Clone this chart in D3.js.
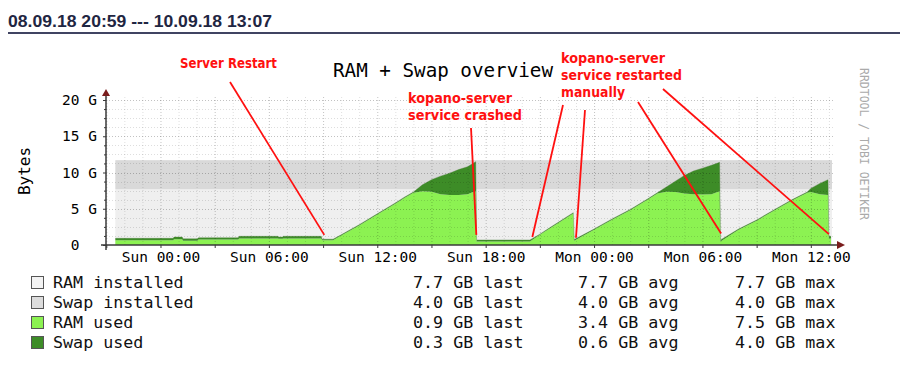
<!DOCTYPE html>
<html>
<head>
<meta charset="utf-8">
<script src="https://cdn.jsdelivr.net/npm/d3@7"></script>
<style>
  html, body { margin: 0; padding: 0; background: #fff; }
  svg { display: block; }
  .mono { font-family: "DejaVu Sans Mono", monospace; }
  .pre { white-space: pre; }
</style>
</head>
<body>
<div id="chart"></div>
<script>
// samples (GB)
const times = [
  "2018-09-08 21:30", "2018-09-09 00:42", "2018-09-09 00:45", "2018-09-09 01:12",
  "2018-09-09 01:15", "2018-09-09 02:03", "2018-09-09 02:06", "2018-09-09 04:18",
  "2018-09-09 04:21", "2018-09-09 06:30", "2018-09-09 06:33", "2018-09-09 06:45",
  "2018-09-09 06:48", "2018-09-09 08:54", "2018-09-09 08:57", "2018-09-09 09:33",
  "2018-09-09 10:00", "2018-09-09 11:00", "2018-09-09 12:00", "2018-09-09 13:00",
  "2018-09-09 13:30", "2018-09-09 14:00", "2018-09-09 14:30", "2018-09-09 15:00",
  "2018-09-09 15:30", "2018-09-09 16:00", "2018-09-09 16:30", "2018-09-09 17:00",
  "2018-09-09 17:24", "2018-09-09 17:27", "2018-09-09 17:30", "2018-09-09 20:27",
  "2018-09-09 21:00", "2018-09-09 21:30", "2018-09-09 22:00", "2018-09-09 22:30",
  "2018-09-09 22:51", "2018-09-09 22:54", "2018-09-10 00:00", "2018-09-10 01:00",
  "2018-09-10 02:00", "2018-09-10 03:00", "2018-09-10 03:30", "2018-09-10 04:00",
  "2018-09-10 04:30", "2018-09-10 05:00", "2018-09-10 05:30", "2018-09-10 06:00",
  "2018-09-10 06:30", "2018-09-10 06:57", "2018-09-10 07:00", "2018-09-10 08:00",
  "2018-09-10 09:00", "2018-09-10 10:00", "2018-09-10 11:00", "2018-09-10 11:48",
  "2018-09-10 12:00", "2018-09-10 12:30", "2018-09-10 12:57", "2018-09-10 13:00",
  "2018-09-10 13:07"
];
const ramUsed = [
  0.65, 0.65, 0.8, 0.8, 0.6, 0.6, 0.75, 0.75,
  0.9, 0.9, 0.85, 0.85, 0.9, 0.9, 0.65, 0.65,
  1.3, 2.7, 4.2, 5.7, 6.5, 7.2, 7.4, 7.35,
  7.0, 6.9, 6.9, 7.0, 7.4, 7.5, 0.5, 0.5,
  1.4, 2.2, 3.0, 3.8, 4.35, 0.6, 2.1, 3.5,
  4.8, 6.3, 7.1, 7.35, 7.3, 7.1, 7.0, 6.95,
  7.0, 7.4, 0.5, 2.1, 3.35, 4.8, 6.2, 7.2,
  7.3, 7.0, 6.9, 0.9, 0.9
];
const swapUsed = [
  0.27, 0.27, 0.3, 0.3, 0.25, 0.25, 0.25, 0.25,
  0.3, 0.3, 0.25, 0.25, 0.3, 0.3, 0.15, 0.15,
  0.1, 0.1, 0.1, 0.1, 0.1, 0.1, 0.9, 1.65,
  2.5, 3.0, 3.5, 3.8, 4.0, 4.0, 0.2, 0.2,
  0.1, 0.1, 0.1, 0.1, 0.1, 0.15, 0.1, 0.1,
  0.1, 0.1, 0.1, 0.65, 1.5, 2.5, 3.2, 3.65,
  4.0, 4.0, 0.2, 0.1, 0.1, 0.1, 0.1, 0.1,
  0.5, 1.5, 2.1, 0.3, 0.3
];
const ramInstalled = 7.7;
const swapInstalled = 4.0;

const yTicks = [0, 5, 10, 15, 20];

const legendNames = ["RAM installed", "Swap installed", "RAM used", "Swap used"];
const legendColors = ["#f3f3f3", "#dcdcdc", "#8cf252", "#3d8c27"];
const lastVals = ["7.7", "4.0", "0.9", "0.3"];
const avgVals = ["7.7", "4.0", "3.4", "0.6"];
const maxVals = ["7.7", "4.0", "7.5", "4.0"];

// annotations: text block + the event each line points at
const notes = [
  { lines: ["Server Restart"], widths: [97], x: 180, y: 68,
    arrows: [{ from: [230, 82], at: "2018-09-09 09:04", v: 1.4 }] },
  { lines: ["kopano-server", "service crashed"], widths: [104, 114], x: 408, y: 103,
    arrows: [{ from: [471, 128], at: "2018-09-09 17:29", v: 1.4 }] },
  { lines: ["kopano-server", "service restarted", "manually"], widths: [104, 121, 64], x: 561, y: 63,
    arrows: [
      { from: [563, 105], at: "2018-09-09 20:35", v: 1.1 },
      { from: [585, 110], at: "2018-09-09 23:00", v: 1.0 },
      { from: [638, 102], at: "2018-09-10 07:02", v: 1.6 },
      { from: [663, 89], at: "2018-09-10 13:00", v: 1.5 }
    ] }
];

const parse = d3.timeParse("%Y-%m-%d %H:%M");
const data = times.map((t, i) => ({ t: parse(t), ram: ramUsed[i], swap: swapUsed[i] }));

const width = 900, height = 371;
const svg = d3.select("#chart").append("svg")
  .attr("width", width)
  .attr("height", height);

// header line
svg.append("text")
  .attr("x", 8).attr("y", 27)
  .attr("textLength", 264).attr("lengthAdjust", "spacingAndGlyphs")
  .style("font-family", "'Liberation Sans', Arial, sans-serif")
  .style("font-weight", "bold").style("font-size", "17px")
  .attr("fill", "#1f2642")
  .text("08.09.18 20:59 --- 10.09.18 13:07");
svg.append("rect").attr("x", 8).attr("y", 32).attr("width", 892).attr("height", 2).attr("fill", "#404462");

const x = d3.scaleTime()
  .domain([parse("2018-09-08 20:59"), parse("2018-09-10 13:07")])
  .range([106, 831]);
const y = d3.scaleLinear().domain([0, 20]).range([245, 100]);

const first = data[0].t, last = data[data.length - 1].t;

// installed bands
const bands = svg.append("g");
bands.append("rect")
  .attr("x", x(first)).attr("width", x(last) - x(first) + 1)
  .attr("y", y(ramInstalled)).attr("height", y(0) - y(ramInstalled))
  .attr("fill", "#efefef");
bands.append("rect")
  .attr("x", x(first)).attr("width", x(last) - x(first) + 1)
  .attr("y", y(ramInstalled + swapInstalled)).attr("height", y(ramInstalled) - y(ramInstalled + swapInstalled))
  .attr("fill", "#d9d9d9");

// used areas (stacked)
const ramArea = d3.area().x(d => x(d.t)).y0(y(0)).y1(d => y(d.ram));
const swapArea = d3.area().x(d => x(d.t)).y0(d => y(d.ram)).y1(d => y(d.ram + d.swap));
svg.append("path").datum(data).attr("d", ramArea).attr("fill", "#8cf252");
svg.append("path").datum(data).attr("d", swapArea).attr("fill", "#3d8c27");
svg.append("path").datum(data)
  .attr("d", d3.line().x(d => x(d.t)).y(d => y(d.ram + d.swap)))
  .attr("fill", "none").attr("stroke", "#4d7a3a").attr("stroke-width", 0.6).attr("stroke-opacity", 0.6);

// grid on top
const grid = svg.append("g");
const hours = d3.timeHour.every(1).range(x.domain()[0], x.domain()[1]);
grid.selectAll(".vg").data(hours).join("line")
  .attr("x1", d => x(d) + 0.5).attr("x2", d => x(d) + 0.5)
  .attr("y1", 97).attr("y2", 245)
  .attr("stroke", d => d.getHours() % 3 === 0 ? "rgba(0,0,0,0.24)" : "rgba(0,0,0,0.13)")
  .attr("stroke-dasharray", "1,2");
const yMinor = d3.range(1.25, 20.01, 1.25);
grid.selectAll(".hg").data(yMinor).join("line")
  .attr("x1", 106).attr("x2", 834)
  .attr("y1", d => Math.round(y(d)) + 0.5).attr("y2", d => Math.round(y(d)) + 0.5)
  .attr("stroke", d => d % 5 === 0 ? "rgba(0,0,0,0.24)" : "rgba(0,0,0,0.13)")
  .attr("stroke-dasharray", "1,2");

// axes
const axisColor = "#3a3a3a";
const yAxis = svg.append("g").attr("transform", "translate(106,0)")
  .call(d3.axisLeft(y).tickValues(yTicks).tickSize(3).tickPadding(6)
    .tickFormat(v => v === 0 ? "0  " : v + " G"));
yAxis.select(".domain").remove();
yAxis.selectAll("text").attr("class", "mono pre").style("font-size", "14.5px").attr("fill", "#000");
yAxis.selectAll("line").attr("stroke", axisColor);
svg.append("g").attr("transform", "translate(106,0)")
  .call(d3.axisLeft(y).tickValues(yMinor.filter(v => v % 5 !== 0)).tickSize(2).tickFormat(""))
  .call(g => g.select(".domain").remove())
  .selectAll("line").attr("stroke", axisColor);

const xAxis = svg.append("g").attr("transform", "translate(0,245)")
  .call(d3.axisBottom(x).ticks(d3.timeHour.every(3)).tickSize(3).tickPadding(4)
    .tickFormat(d => d.getHours() % 6 === 0 ? d3.timeFormat("%a %H:%M")(d) : ""));
xAxis.select(".domain").remove();
xAxis.selectAll("text").attr("class", "mono").style("font-size", "14.5px").attr("fill", "#000");
xAxis.selectAll("line").attr("stroke", axisColor);

svg.append("line").attr("x1", 106).attr("x2", 106).attr("y1", 250).attr("y2", 95)
  .attr("stroke", axisColor).attr("stroke-width", 1.5);
svg.append("line").attr("x1", 101).attr("x2", 838).attr("y1", 245).attr("y2", 245)
  .attr("stroke", axisColor).attr("stroke-width", 1.5);
svg.append("path").attr("d", "M102,96 L110,96 L106,89 Z").attr("fill", "#7a1c1c");
svg.append("path").attr("d", "M837,241 L837,249 L845,245 Z").attr("fill", "#7a1c1c");

// title, y label, watermark
svg.append("text").attr("class", "mono")
  .attr("x", 443).attr("y", 77).attr("text-anchor", "middle")
  .attr("textLength", 220).attr("lengthAdjust", "spacingAndGlyphs")
  .style("font-size", "19px").text("RAM + Swap overview");
svg.append("text").attr("class", "mono")
  .attr("transform", "translate(30,171) rotate(-90)")
  .attr("text-anchor", "middle").style("font-size", "16px").text("Bytes");
svg.append("text").attr("class", "mono")
  .attr("transform", "translate(860,144) rotate(90)")
  .attr("text-anchor", "middle").attr("textLength", 152).attr("lengthAdjust", "spacingAndGlyphs")
  .style("font-size", "11.5px").attr("fill", "#aaaaaa").text("RRDTOOL / TOBI OETIKER");

// legend
const legend = svg.append("g");
const rowY = i => 288 + i * 20;
legendNames.forEach((name, i) => {
  legend.append("rect").attr("x", 31.5).attr("y", rowY(i) - 11.5).attr("width", 12).attr("height", 12)
    .attr("fill", legendColors[i]).attr("stroke", "#555").attr("stroke-width", 1);
  const row = [[53, name], [413, lastVals[i] + " GB last"], [578, avgVals[i] + " GB avg"], [735, maxVals[i] + " GB max"]];
  row.forEach(([tx, s]) => {
    legend.append("text").attr("class", "mono")
      .attr("x", tx).attr("y", rowY(i)).style("font-size", "16.7px").attr("fill", "#111").text(s);
  });
});

// annotations
const ann = svg.append("g");
notes.forEach(n => {
  n.arrows.forEach(a => {
    ann.append("line")
      .attr("x1", a.from[0]).attr("y1", a.from[1])
      .attr("x2", x(parse(a.at))).attr("y2", y(a.v))
      .attr("stroke", "#ff1010").attr("stroke-width", 1.8);
  });
  n.lines.forEach((s, i) => {
    ann.append("text")
      .attr("x", n.x).attr("y", n.y + i * 17)
      .attr("textLength", n.widths[i]).attr("lengthAdjust", "spacingAndGlyphs")
      .style("font-family", "'DejaVu Sans', Verdana, sans-serif")
      .style("font-weight", "bold").style("font-size", "13.5px")
      .attr("fill", "#ff1010").text(s);
  });
});
</script>
</body>
</html>
